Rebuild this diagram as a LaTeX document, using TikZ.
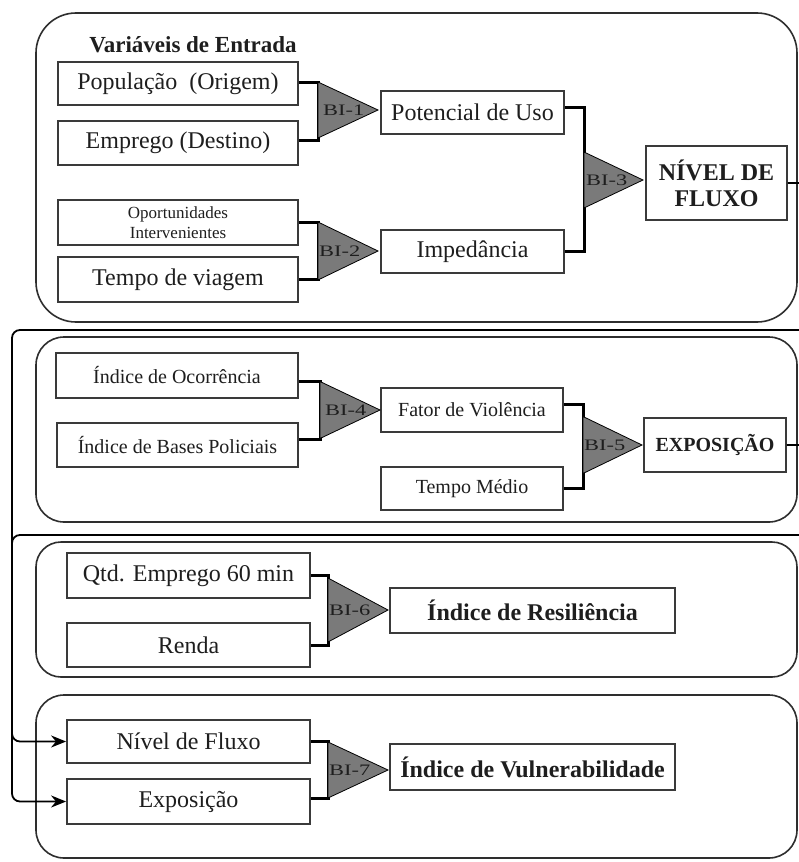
\documentclass[tikz,border=0pt]{standalone}
\usepackage{fontspec}
\usepackage{graphicx}
\setmainfont{Liberation Serif}
\usetikzlibrary{arrows.meta}
\definecolor{txt}{HTML}{1E1E1E}
\definecolor{bord}{HTML}{3A3A3A}
\definecolor{trifill}{HTML}{7A7A7A}
\definecolor{grp}{HTML}{2E2E2E}
\tikzset{
  boxn/.style={draw=bord, line width=1.8pt, fill=white, inner sep=0pt, text=txt, align=center},
  fbig/.style={font=\fontsize{24}{27}\selectfont},
  fmid/.style={font=\fontsize{20}{23}\selectfont},
  fsmall/.style={font=\fontsize{17}{20}\selectfont},
  fbold/.style={font=\fontsize{24}{26}\selectfont\bfseries},
  fboldmid/.style={font=\fontsize{20}{23}\selectfont\bfseries},
  grpbox/.style={draw=grp, line width=1.6pt},
  bracket/.style={draw=black, line width=3pt},
  trin/.style={draw=black, line width=0.8pt, fill=trifill},
  bilab/.style={text=txt, inner sep=0pt, anchor=west, font=\fontsize{16}{16}\selectfont},
  flowline/.style={draw=black, line width=1.8pt, rounded corners=8pt, -{Stealth[length=15pt,width=12pt]}}
}
\newcommand{\bilabel}[1]{\scalebox{1.4}[1]{#1}}
\begin{document}
\begin{tikzpicture}[x=1pt,y=-1pt]
\useasboundingbox (0,0) rectangle (799,862);
\fill[white] (0,0) rectangle (799,862);
\clip (0,0) rectangle (799,862);

% group frames
\draw[grpbox, rounded corners=40pt] (36,13) rectangle (797,322);
\draw[grpbox, rounded corners=28pt] (36,337) rectangle (797,522);
\draw[grpbox, rounded corners=25pt] (36,542) rectangle (797,677);
\draw[grpbox, rounded corners=28pt] (36,695) rectangle (797,858);

% title
\node[text=txt, font=\fontsize{23}{26}\selectfont\bfseries] (title) at (193,45) {Variáveis de Entrada};

% group 1 boxes
\node[boxn, fbig, minimum width=240pt, minimum height=43pt] (pop) at (178,83.5) {População~ (Origem)};
\node[boxn, fbig, minimum width=240pt, minimum height=44pt] (emp) at (178,143) {Emprego (Destino)};
\node[boxn, fsmall, minimum width=240pt, minimum height=45pt] (opo) at (178,222.5) {Oportunidades\\Intervenientes};
\node[boxn, fbig, minimum width=240pt, minimum height=45pt] (tv) at (178,279.5) {Tempo de viagem};
\node[boxn, fbig, minimum width=183pt, minimum height=43pt] (pot) at (472.5,112.5) {Potencial de Uso};
\node[boxn, fbig, minimum width=183pt, minimum height=43pt] (imp) at (472.5,251.5) {Impedância};
\node[boxn, fbold, minimum width=141pt, minimum height=74pt] (nf) at (716.5,183) {NÍVEL DE\\FLUXO};

% group 2 boxes
\node[boxn, fmid, minimum width=242pt, minimum height=45pt] (oco) at (177,375.5) {Índice de Ocorrência};
\node[boxn, fmid, minimum width=241pt, minimum height=44pt] (bas) at (177.5,445) {Índice de Bases Policiais};
\node[boxn, fmid, minimum width=182pt, minimum height=44pt] (fv) at (472,410) {Fator de Violência};
\node[boxn, fmid, minimum width=182pt, minimum height=43pt] (tm) at (472,488.5) {Tempo Médio};
\node[boxn, fboldmid, minimum width=142pt, minimum height=54pt] (exp) at (715,445) {EXPOSIÇÃO};

% group 3 boxes
\node[boxn, fbig, minimum width=243pt, minimum height=45pt] (qtd) at (188.5,575.5) {Qtd. Emprego 60 min};
\node[boxn, fbig, minimum width=243pt, minimum height=44pt] (ren) at (188.5,645) {Renda};
\node[boxn, fbold, minimum width=285pt, minimum height=45pt] (res) at (532.5,610.5) {Índice de Resiliência};

% group 4 boxes
\node[boxn, fbig, minimum width=243pt, minimum height=43pt] (nfl) at (188.5,741.5) {Nível de Fluxo};
\node[boxn, fbig, minimum width=243pt, minimum height=45pt] (ex2) at (188.5,801.5) {Exposição};
\node[boxn, fbold, minimum width=285pt, minimum height=46pt] (vul) at (532.5,767) {Índice de Vulnerabilidade};

% bracket joints
\coordinate (k1) at (318,110);
\coordinate (k2) at (318,251);
\coordinate (k3) at (584,180);
\coordinate (k4) at (320,410);
\coordinate (k5) at (583,445);
\coordinate (k6) at (328,610);
\coordinate (k7) at (328,770);

% brackets
\draw[bracket] ([yshift=1.5pt]pop.east) -| (k1) |- ([yshift=3pt]emp.east);
\draw[bracket] (opo.east) -| (k2) |- (tv.east);
\draw[bracket] ([yshift=5.5pt]pot.east) -| (k3) |- (imp.east);
\draw[bracket] ([yshift=-5.5pt]oco.east) -| (k4) |- ([yshift=6pt]bas.east);
\draw[bracket] ([yshift=6pt]fv.east) -| (k5) |- (tm.east);
\draw[bracket] (qtd.east) -| (k6) |- (ren.east);
\draw[bracket] (nfl.east) -| (k7) |- ([yshift=3.5pt]ex2.east);

% triangles
\filldraw[trin] (k1) ++(0,-28) -- ++(60,28) -- ++(-60,28) -- cycle;
\filldraw[trin] (k2) ++(0,-29) -- ++(60,29) -- ++(-60,29) -- cycle;
\filldraw[trin] (k3) ++(0,-28) -- ++(59,28) -- ++(-59,28) -- cycle;
\filldraw[trin] (k4) ++(0,-28.5) -- ++(60,28.5) -- ++(-60,28.5) -- cycle;
\filldraw[trin] (k5) ++(0,-28.5) -- ++(59,28.5) -- ++(-59,28.5) -- cycle;
\filldraw[trin] (k6) ++(0,-32) -- ++(60,32) -- ++(-60,32) -- cycle;
\filldraw[trin] (k7) ++(0,-28) -- ++(60,28) -- ++(-60,28) -- cycle;

% triangle labels
\node[bilab] (l1) at ([xshift=5pt]k1) {\bilabel{BI-1}};
\node[bilab] (l2) at ([xshift=1pt]k2) {\bilabel{BI-2}};
\node[bilab] (l3) at ([xshift=2pt]k3) {\bilabel{BI-3}};
\node[bilab] (l4) at ([xshift=5pt]k4) {\bilabel{BI-4}};
\node[bilab] (l5) at ([xshift=1pt]k5) {\bilabel{BI-5}};
\node[bilab] (l6) at ([xshift=1pt]k6) {\bilabel{BI-6}};
\node[bilab] (l7) at ([xshift=1pt]k7) {\bilabel{BI-7}};

% feedback connectors
\draw[flowline] (nf.east) -| (830,330) -- (12,330) |- (nfl.west);
\draw[flowline] (exp.east) -| (830,535) -- (12,535) |- (ex2.west);
\end{tikzpicture}
\end{document}
